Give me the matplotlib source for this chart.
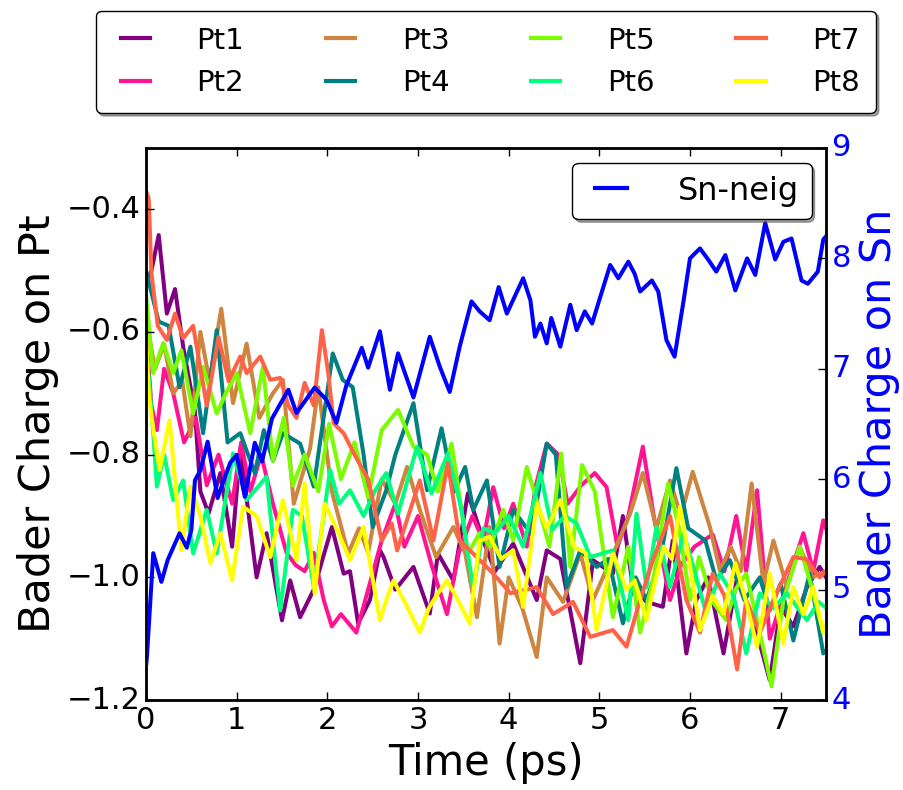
import matplotlib
matplotlib.use("Agg")
import matplotlib.pyplot as plt

plt.style.use("classic")
plt.rcParams["font.family"] = ["DejaVu Sans"]

# Bader charge on each Pt atom (time in ps, charge)
t_pt1 = [0.0, 0.06, 0.14, 0.23, 0.32, 0.41, 0.54, 0.60, 0.69, 0.82, 0.95, 1.04, 1.22, 1.33, 1.50, 1.59,
         1.70, 1.85, 2.05, 2.18, 2.25, 2.34, 2.47, 2.58, 2.62, 2.75, 2.95, 3.13, 3.22, 3.39, 3.55, 3.72,
         3.85, 4.05, 4.31, 4.42, 4.57, 4.79, 4.93, 5.15, 5.26, 5.37, 5.52, 5.70, 5.81, 5.96, 6.07, 6.20,
         6.37, 6.52, 6.70, 6.88, 7.00, 7.14, 7.29, 7.43, 7.50]
pt1 = [-0.52, -0.50, -0.442, -0.57, -0.53, -0.624, -0.73, -0.86, -0.896, -0.83, -0.95, -0.79, -1.0, -0.928,
       -1.07, -1.005, -1.065, -1.02, -0.918, -0.994, -0.99, -1.075, -1.037, -0.956, -0.967, -1.02, -0.983,
       -1.059, -0.961, -1.005, -0.863, -0.94, -0.99, -0.945, -1.037, -0.956, -0.97, -1.14, -0.972, -0.994,
       -0.90, -1.016, -1.04, -1.048, -0.94, -1.124, -1.037, -1.0, -1.124, -1.0, -1.07, -1.168, -1.048,
       -1.08, -1.016, -0.983, -1.0]

t_pt2 = [0.0, 0.06, 0.12, 0.20, 0.30, 0.42, 0.55, 0.67, 0.80, 0.95, 1.05, 1.15, 1.27, 1.40, 1.55, 1.65,
         1.75, 1.85, 1.96, 2.05, 2.15, 2.32, 2.45, 2.60, 2.75, 2.85, 3.0, 3.15, 3.32, 3.45, 3.60, 3.72,
         3.83, 3.95, 4.05, 4.20, 4.30, 4.42, 4.55, 4.65, 4.80, 4.95, 5.08, 5.20, 5.32, 5.48, 5.60, 5.78,
         5.90, 6.05, 6.25, 6.38, 6.51, 6.62, 6.74, 6.88, 7.05, 7.25, 7.36, 7.47, 7.50]
pt2 = [-0.60, -0.72, -0.76, -0.66, -0.70, -0.78, -0.74, -0.85, -0.80, -0.88, -0.78, -0.86, -0.80, -0.88,
       -0.96, -0.98, -0.99, -0.96, -1.037, -1.08, -1.06, -1.09, -1.02, -0.94, -0.88, -0.95, -0.90, -0.98,
       -1.06, -0.96, -0.90, -0.94, -0.853, -0.92, -0.88, -0.95, -0.85, -0.782, -0.80, -0.88, -0.85, -0.83,
       -0.853, -0.95, -0.90, -0.787, -0.90, -1.037, -0.98, -0.95, -0.93, -0.99, -0.90, -0.99, -0.858,
       -1.10, -1.02, -0.928, -0.99, -0.907, -0.92]

t_pt3 = [0.0, 0.10, 0.20, 0.30, 0.40, 0.49, 0.60, 0.70, 0.83, 0.96, 1.11, 1.25, 1.40, 1.51, 1.63, 1.81,
         1.90, 2.05, 2.23, 2.35, 2.45, 2.60, 2.75, 2.88, 3.02, 3.20, 3.39, 3.52, 3.65, 3.79, 3.90, 4.0,
         4.15, 4.31, 4.42, 4.60, 4.79, 4.93, 5.10, 5.34, 5.48, 5.63, 5.78, 5.90, 6.03, 6.22, 6.33, 6.45,
         6.56, 6.68, 6.81, 6.92, 7.07, 7.21, 7.35, 7.50]
pt3 = [-0.58, -0.66, -0.62, -0.70, -0.68, -0.77, -0.60, -0.68, -0.562, -0.716, -0.619, -0.74, -0.70, -0.678,
       -0.88, -0.79, -0.69, -0.86, -0.961, -0.92, -0.96, -0.84, -0.88, -0.82, -0.89, -0.967, -0.918, -0.96,
       -1.065, -0.918, -1.108, -1.0, -1.05, -1.13, -1.0, -1.04, -0.961, -1.037, -0.98, -0.896, -0.83, -0.92,
       -0.842, -0.90, -0.828, -0.918, -0.989, -0.95, -0.99, -0.847, -1.01, -0.94, -1.016, -0.95, -1.0, -0.99]

t_pt4 = [0.0, 0.14, 0.25, 0.37, 0.49, 0.63, 0.78, 0.90, 1.04, 1.20, 1.30, 1.40, 1.51, 1.70, 1.85, 2.06,
         2.17, 2.28, 2.40, 2.50, 2.65, 2.75, 2.95, 3.10, 3.26, 3.40, 3.52, 3.61, 3.76, 3.90, 4.05, 4.25,
         4.42, 4.52, 4.64, 4.79, 4.97, 5.10, 5.26, 5.40, 5.52, 5.67, 5.85, 5.98, 6.17, 6.29, 6.44, 6.60,
         6.77, 6.88, 7.0, 7.14, 7.32, 7.47, 7.50]
pt4 = [-0.50, -0.583, -0.59, -0.69, -0.624, -0.765, -0.597, -0.78, -0.765, -0.83, -0.76, -0.81, -0.765,
       -0.782, -0.852, -0.635, -0.678, -0.69, -0.80, -0.918, -0.858, -0.80, -0.716, -0.858, -0.757, -0.86,
       -0.82, -0.89, -0.842, -0.983, -0.89, -0.93, -0.782, -0.80, -1.016, -0.956, -0.983, -0.97, -1.075,
       -1.0, -1.037, -0.972, -0.822, -0.92, -0.94, -1.005, -0.972, -1.037, -1.0, -1.054, -1.01, -1.103,
       -0.994, -1.124, -1.12]

t_pt5 = [0.0, 0.08, 0.19, 0.30, 0.39, 0.52, 0.63, 0.78, 0.88, 1.0, 1.15, 1.29, 1.40, 1.52, 1.62, 1.75,
         1.90, 2.02, 2.15, 2.30, 2.45, 2.60, 2.78, 2.95, 3.10, 3.22, 3.37, 3.55, 3.68, 3.80, 3.94, 4.05,
         4.20, 4.32, 4.45, 4.58, 4.68, 4.81, 4.95, 5.15, 5.32, 5.45, 5.60, 5.76, 5.88, 6.0, 6.10, 6.25,
         6.40, 6.50, 6.62, 6.77, 6.90, 7.03, 7.21, 7.33, 7.47, 7.50]
pt5 = [-0.54, -0.667, -0.618, -0.667, -0.63, -0.733, -0.657, -0.733, -0.70, -0.667, -0.765, -0.657, -0.81,
       -0.74, -0.85, -0.80, -0.86, -0.75, -0.84, -0.78, -0.87, -0.76, -0.727, -0.787, -0.80, -0.86, -0.782,
       -0.961, -0.928, -0.95, -0.89, -0.94, -0.82, -0.88, -0.95, -0.798, -0.983, -0.817, -0.86, -1.065,
       -0.95, -1.09, -1.0, -0.847, -0.92, -1.037, -0.967, -1.04, -1.07, -1.02, -0.994, -1.09, -1.178,
       -1.037, -0.95, -1.01, -1.09, -1.08]

t_pt6 = [0.0, 0.08, 0.12, 0.20, 0.30, 0.41, 0.52, 0.67, 0.78, 0.96, 1.11, 1.33, 1.48, 1.62, 1.72, 1.85,
         2.03, 2.13, 2.25, 2.40, 2.52, 2.65, 2.78, 2.99, 3.15, 3.33, 3.48, 3.61, 3.72, 3.85, 4.0, 4.16,
         4.35, 4.48, 4.62, 4.75, 4.90, 5.15, 5.32, 5.41, 5.52, 5.63, 5.78, 5.93, 6.05, 6.18, 6.33, 6.48,
         6.62, 6.77, 6.92, 7.07, 7.29, 7.42, 7.50]
pt6 = [-0.62, -0.765, -0.852, -0.80, -0.874, -0.842, -0.961, -0.89, -0.961, -0.798, -0.874, -0.836,
       -1.054, -0.89, -0.90, -1.016, -0.825, -0.88, -0.858, -0.90, -0.86, -0.83, -0.896, -0.787, -0.863,
       -0.798, -0.89, -1.02, -0.92, -0.928, -0.90, -0.95, -0.83, -0.923, -0.90, -0.912, -0.967, -0.956,
       -1.07, -0.896, -1.016, -0.918, -1.016, -0.928, -0.99, -1.059, -0.994, -1.03, -1.124, -1.026, -1.05,
       -1.026, -1.07, -1.04, -1.05]

t_pt7 = [0.0, 0.03, 0.06, 0.13, 0.23, 0.32, 0.41, 0.52, 0.67, 0.80, 0.91, 1.04, 1.11, 1.26, 1.37, 1.48,
         1.57, 1.66, 1.75, 1.85, 1.94, 2.01, 2.07, 2.18, 2.30, 2.45, 2.60, 2.71, 2.77, 3.02, 3.17, 3.33,
         3.46, 3.60, 3.83, 4.02, 4.31, 4.49, 4.71, 4.90, 5.15, 5.30, 5.45, 5.59, 5.78, 5.96, 6.11, 6.25,
         6.38, 6.52, 6.62, 6.77, 6.92, 7.14, 7.28, 7.43, 7.50]
pt7 = [-0.37, -0.382, -0.504, -0.59, -0.613, -0.57, -0.61, -0.59, -0.72, -0.608, -0.68, -0.64, -0.667,
       -0.64, -0.678, -0.675, -0.72, -0.74, -0.683, -0.72, -0.597, -0.667, -0.749, -0.765, -0.80, -0.84,
       -0.94, -0.912, -0.956, -0.842, -0.94, -0.814, -0.94, -0.96, -0.994, -1.026, -1.016, -1.06, -1.04,
       -1.097, -1.086, -1.113, -1.037, -0.972, -0.90, -1.037, -1.09, -0.994, -1.03, -1.15, -1.037, -1.09,
       -1.037, -0.967, -0.97, -1.0, -0.99]

t_pt8 = [0.0, 0.03, 0.06, 0.15, 0.26, 0.39, 0.49, 0.60, 0.71, 0.82, 0.95, 1.07, 1.22, 1.37, 1.51, 1.66,
         1.75, 1.86, 1.97, 2.10, 2.25, 2.40, 2.58, 2.65, 2.73, 2.88, 3.02, 3.12, 3.22, 3.32, 3.45, 3.57,
         3.68, 3.79, 3.92, 4.05, 4.16, 4.31, 4.42, 4.57, 4.72, 4.85, 4.97, 5.15, 5.30, 5.39, 5.52, 5.60,
         5.71, 5.80, 5.89, 6.0, 6.11, 6.25, 6.37, 6.50, 6.62, 6.74, 6.88, 7.03, 7.14, 7.25, 7.36, 7.47, 7.50]
pt8 = [-0.60, -0.70, -0.738, -0.825, -0.744, -0.956, -0.852, -0.90, -0.977, -0.928, -1.005, -0.885, -0.90,
       -0.967, -0.874, -0.972, -0.847, -1.026, -0.88, -0.92, -0.972, -0.918, -1.07, -1.037, -1.005, -1.048,
       -1.09, -1.05, -1.026, -1.005, -1.04, -1.075, -0.94, -0.934, -0.97, -0.956, -1.048, -0.88, -0.92,
       -0.874, -0.95, -0.96, -1.086, -0.961, -1.02, -1.005, -1.07, -1.016, -0.95, -0.97, -0.885, -0.98,
       -1.086, -1.03, -1.059, -0.977, -1.04, -1.113, -0.994, -1.108, -1.016, -1.06, -1.016, -1.09, -1.08]

# Bader charge on the Sn neighbour (right axis)
t_sn = [0.0, 0.01, 0.08, 0.17, 0.24, 0.37, 0.45, 0.50, 0.54, 0.60, 0.68, 0.79, 0.87, 0.93, 1.00, 1.09,
        1.20, 1.28, 1.39, 1.57, 1.66, 1.86, 1.99, 2.10, 2.21, 2.38, 2.45, 2.58, 2.69, 2.78, 2.95, 3.13,
        3.24, 3.35, 3.46, 3.59, 3.68, 3.79, 3.89, 3.98, 4.16, 4.24, 4.29, 4.35, 4.42, 4.47, 4.57, 4.68,
        4.75, 4.84, 4.92, 5.01, 5.12, 5.21, 5.32, 5.39, 5.45, 5.58, 5.65, 5.74, 5.83, 5.93, 6.00, 6.11,
        6.20, 6.29, 6.39, 6.50, 6.63, 6.72, 6.83, 6.94, 7.03, 7.12, 7.23, 7.30, 7.41, 7.47, 7.50]
sn = [4.30, 4.39, 5.33, 5.07, 5.27, 5.51, 5.38, 5.54, 5.99, 6.08, 6.34, 5.83, 6.02, 6.15, 6.22, 5.84,
      6.33, 6.16, 6.55, 6.81, 6.60, 6.83, 6.72, 6.51, 6.85, 7.19, 7.01, 7.34, 6.81, 7.14, 6.74, 7.29,
      7.02, 6.79, 7.20, 7.61, 7.52, 7.44, 7.74, 7.50, 7.82, 7.62, 7.29, 7.41, 7.23, 7.46, 7.20, 7.58,
      7.35, 7.52, 7.41, 7.65, 7.94, 7.82, 7.97, 7.86, 7.70, 7.80, 7.70, 7.26, 7.11, 7.62, 8.00, 8.09,
      7.99, 7.88, 8.03, 7.71, 8.00, 7.85, 8.32, 7.99, 8.15, 8.18, 7.80, 7.77, 7.88, 8.17, 8.20]

pt_times = [t_pt1, t_pt2, t_pt3, t_pt4, t_pt5, t_pt6, t_pt7, t_pt8]
pt_values = [pt1, pt2, pt3, pt4, pt5, pt6, pt7, pt8]
labels = ["Pt1", "Pt2", "Pt3", "Pt4", "Pt5", "Pt6", "Pt7", "Pt8"]
colors = ["purple", "deeppink", "peru", "teal", "lawngreen", "springgreen", "tomato", "yellow"]

fig = plt.figure(figsize=(9.04, 7.9), dpi=100, facecolor="white")
ax = fig.add_axes([0.1615, 0.1139, 0.7522, 0.6988])

for t, v, lab, c in zip(pt_times, pt_values, labels, colors):
    ax.plot(t, v, color=c, lw=2.9, label=lab, solid_joinstyle="round")

ax.set_xlim(0, 7.5)
ax.set_ylim(-1.2, -0.3)
ax.set_yticks([-1.2, -1.0, -0.8, -0.6, -0.4])
ax.set_xticks(range(8))
ax.tick_params(labelsize=22, length=6, width=1, right=False)
ax.set_xlabel("Time (ps)", fontsize=30)
ax.set_ylabel("Bader Charge on Pt", fontsize=31)
for sp in ax.spines.values():
    sp.set_linewidth(2)

leg = ax.legend(loc="lower center", bbox_to_anchor=(0.5, 1.063), ncol=4, fontsize=21,
                fancybox=True, shadow=True, handlelength=1.6, handletextpad=1.3,
                columnspacing=2.5, borderpad=0.55, labelspacing=0.5, borderaxespad=0)
for line in leg.get_lines():
    line.set_linewidth(3)

ax2 = ax.twinx()
ax2.plot(t_sn, sn, color="blue", lw=2.9, label="Sn-neig", solid_joinstyle="round")
ax2.set_ylim(4, 9)
ax2.set_xlim(0, 7.5)
ax2.tick_params(labelsize=22, length=6, width=1)
ax2.tick_params(axis="y", colors="black", labelcolor="blue")
ax2.set_ylabel("Bader Charge on Sn", fontsize=31, color="blue")
leg2 = ax2.legend(loc="upper right", fontsize=23, fancybox=True, shadow=True,
                  handlelength=1.6, handletextpad=1.3, borderpad=0.4, borderaxespad=0,
                  bbox_to_anchor=(0.979, 0.973))
for line in leg2.get_lines():
    line.set_linewidth(3)

fig.savefig("out.png", dpi=100, facecolor="white")
